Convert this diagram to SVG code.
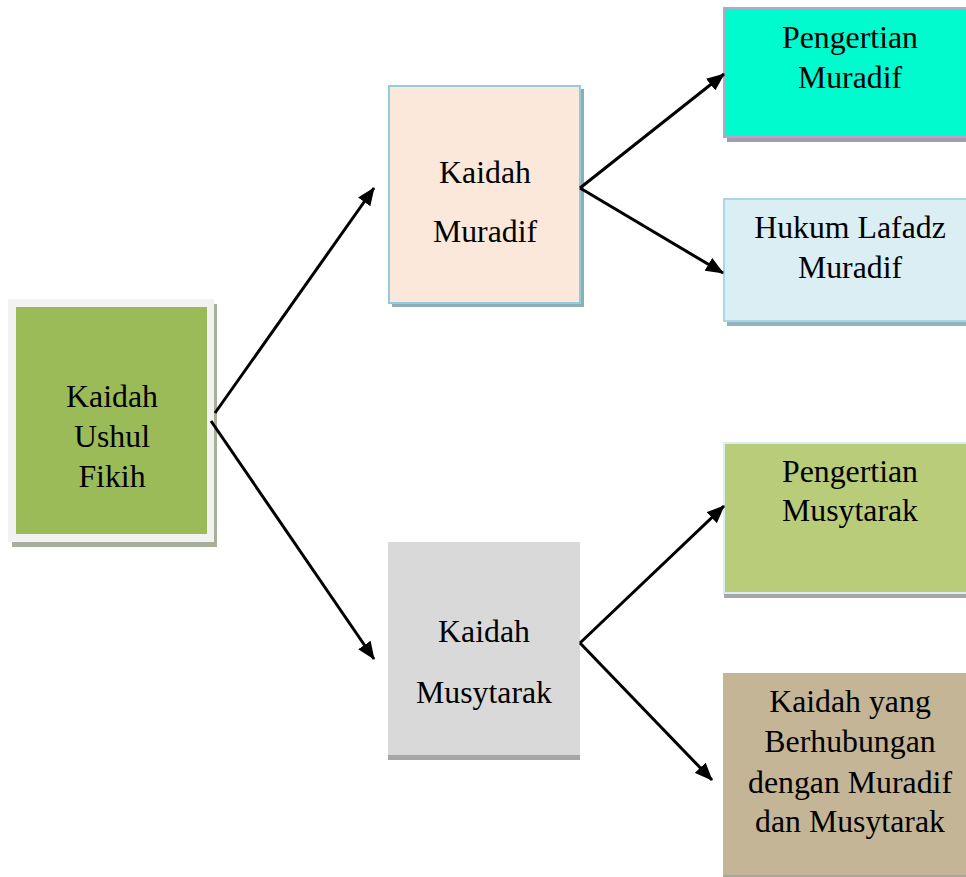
<svg xmlns="http://www.w3.org/2000/svg" width="966" height="877" viewBox="0 0 966 877">
<style>
text{font-family:"Liberation Serif","Times New Roman",serif;font-size:31.8px;fill:#000;text-anchor:middle}
.c{stroke:#000;stroke-width:3;fill:none;marker-end:url(#ah)}
</style>
<defs>
<marker id="ah" markerUnits="userSpaceOnUse" markerWidth="19" markerHeight="15" refX="17" refY="7.5" orient="auto">
<path d="M0,0 L18,7.5 L0,15 Z" fill="#000"/>
</marker>
</defs>
<rect width="966" height="877" fill="#fff"/>
<g id="n1">
<rect x="12" y="304" width="205" height="243" fill="#a7af98"/>
<rect x="8" y="299" width="206" height="243" fill="#f2f2f2"/>
<rect x="16" y="307" width="191" height="227" fill="#9bbb59"/>
<text x="112" y="407">Kaidah</text>
<text x="112" y="447">Ushul</text>
<text x="112" y="487">Fikih</text>
</g>
<g id="n2">
<rect x="392" y="89" width="192" height="218" fill="#8fadb7"/>
<rect x="389" y="86" width="191" height="217" fill="#fbe8da" stroke="#92cddc" stroke-width="2"/>
<text x="485" y="183">Kaidah</text>
<text x="485" y="242">Muradif</text>
</g>
<g id="n3">
<rect x="727" y="11" width="245" height="131" fill="#a39cad"/>
<rect x="724" y="8" width="248" height="129" fill="#00fbcf" stroke="#b7a6c9" stroke-width="2"/>
<text x="850" y="48">Pengertian</text>
<text x="850" y="88">Muradif</text>
</g>
<g id="n4">
<rect x="727" y="202" width="245" height="124" fill="#8fb3bf"/>
<rect x="724" y="199" width="248" height="122" fill="#daeef3" stroke="#a9d6e3" stroke-width="2"/>
<text x="850" y="238">Hukum Lafadz</text>
<text x="850" y="278">Muradif</text>
</g>
<g id="n5">
<rect x="388" y="545" width="192" height="215" fill="#a6a6a6"/>
<rect x="388" y="542" width="192" height="213" fill="#d9d9d9"/>
<text x="484" y="642">Kaidah</text>
<text x="484" y="703">Musytarak</text>
</g>
<g id="n6">
<rect x="724" y="446" width="248" height="152" fill="#a6a6a6"/>
<rect x="724" y="443" width="248" height="150" fill="#b9cc79" stroke="#dbeef4" stroke-width="2"/>
<text x="850" y="482">Pengertian</text>
<text x="850" y="521">Musytarak</text>
</g>
<g id="n7">
<rect x="723" y="676" width="249" height="204" fill="#a6a6a6"/>
<rect x="723" y="673" width="249" height="202" fill="#c5b597"/>
<text x="850" y="712">Kaidah yang</text>
<text x="850" y="752">Berhubungan</text>
<text x="850" y="793">dengan Muradif</text>
<text x="850" y="832">dan Musytarak</text>
</g>
<g id="connectors">
<line class="c" x1="215" y1="413" x2="374" y2="188"/>
<line class="c" x1="211" y1="421" x2="374" y2="659"/>
<line class="c" x1="580" y1="188" x2="724" y2="74"/>
<line class="c" x1="580" y1="188" x2="723" y2="273"/>
<line class="c" x1="580" y1="643" x2="724" y2="506"/>
<line class="c" x1="580" y1="643" x2="712" y2="780"/>
</g>
</svg>
